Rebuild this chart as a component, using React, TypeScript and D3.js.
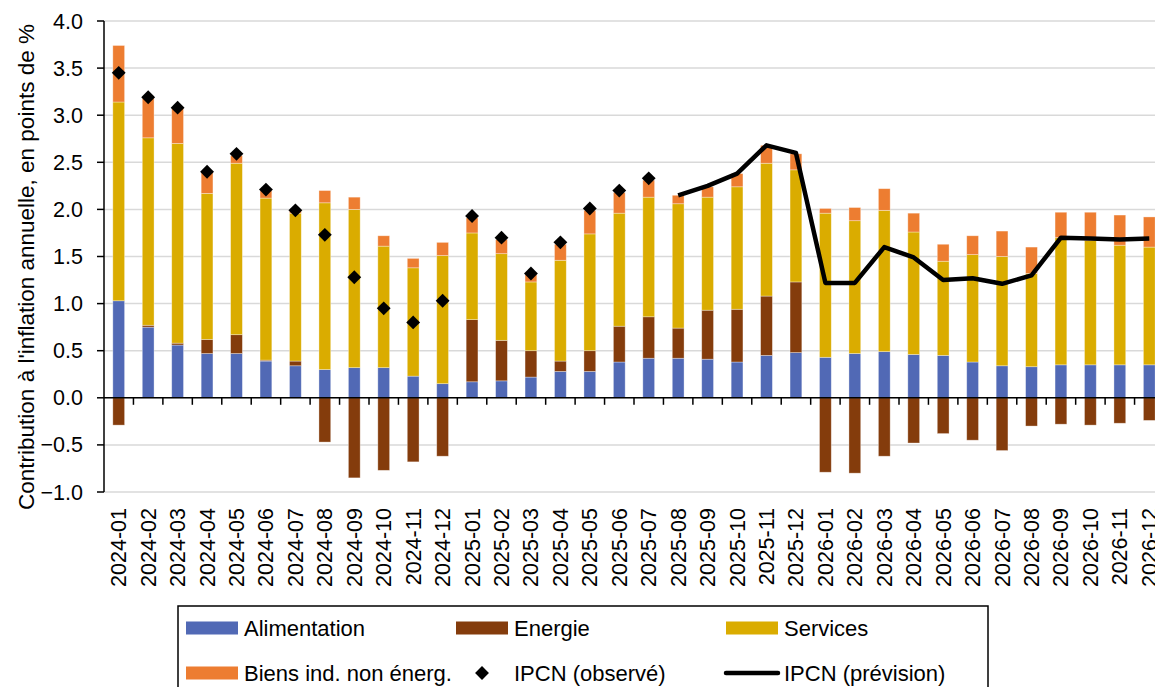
import React from "react";
import * as d3 from "d3";

const months = [
  "2024-01","2024-02","2024-03","2024-04","2024-05","2024-06","2024-07","2024-08","2024-09","2024-10","2024-11","2024-12",
  "2025-01","2025-02","2025-03","2025-04","2025-05","2025-06","2025-07","2025-08","2025-09","2025-10","2025-11","2025-12",
  "2026-01","2026-02","2026-03","2026-04","2026-05","2026-06","2026-07","2026-08","2026-09","2026-10","2026-11","2026-12",
];

const alimentation = [1.03,0.75,0.56,0.47,0.47,0.39,0.34,0.30,0.32,0.32,0.23,0.15,0.17,0.18,0.22,0.28,0.28,0.38,0.42,0.42,0.41,0.38,0.45,0.48,0.43,0.47,0.49,0.46,0.45,0.38,0.34,0.33,0.35,0.35,0.35,0.35];
const energie = [-0.29,0.02,0.02,0.15,0.20,0.01,0.05,-0.47,-0.85,-0.77,-0.68,-0.62,0.66,0.43,0.28,0.11,0.22,0.38,0.44,0.32,0.52,0.56,0.63,0.75,-0.79,-0.80,-0.62,-0.48,-0.38,-0.45,-0.56,-0.30,-0.28,-0.29,-0.27,-0.24];
const services = [2.11,1.99,2.12,1.55,1.82,1.72,1.57,1.77,1.68,1.29,1.15,1.36,0.92,0.92,0.73,1.07,1.24,1.20,1.27,1.32,1.20,1.30,1.41,1.19,1.53,1.41,1.50,1.30,1.00,1.14,1.16,0.99,1.35,1.32,1.27,1.25];
const biens = [0.60,0.42,0.37,0.23,0.08,0.08,0.03,0.13,0.13,0.11,0.10,0.14,0.16,0.15,0.08,0.17,0.25,0.22,0.18,0.09,0.11,0.14,0.19,0.17,0.05,0.14,0.23,0.20,0.18,0.20,0.27,0.28,0.27,0.30,0.32,0.32];

const observedMonths = months.slice(0, 19);
const ipcnObserve = [3.45,3.19,3.08,2.40,2.59,2.21,1.99,1.73,1.28,0.95,0.80,1.03,1.93,1.70,1.32,1.65,2.01,2.20,2.33];
const forecastMonths = months.slice(19);
const ipcnPrevision = [2.15,2.25,2.38,2.68,2.60,1.22,1.22,1.60,1.49,1.25,1.27,1.21,1.30,1.70,1.69,1.68,1.69];

const yTicks = [-1, -0.5, 0, 0.5, 1, 1.5, 2, 2.5, 3, 3.5, 4];

const seriesKeys = ["Alimentation", "Energie", "Services", "Biens ind. non énerg."];
const seriesColors = ["#5169B5", "#843C0C", "#DAAC00", "#ED7D31"];

const FONT = "'Liberation Sans', Arial, sans-serif";

export default function App() {
  const W = 1155, H = 687;
  const x0 = 104, x1 = 1164;
  const yTop = 21, yBot = 492;

  const x = d3.scaleBand<string>().domain(months).range([x0, x1]).paddingInner(0.6).paddingOuter(0.3);
  const step = x.step();
  const y = d3.scaleLinear().domain([-1, 4]).range([yBot, yTop]);

  const table = months.map((m, i) => ({
    month: m,
    [seriesKeys[0]]: alimentation[i],
    [seriesKeys[1]]: energie[i],
    [seriesKeys[2]]: services[i],
    [seriesKeys[3]]: biens[i],
  }));
  const stacked = d3.stack<any>().keys(seriesKeys).offset(d3.stackOffsetDiverging)(table);

  const cx = (m: string) => (x(m) as number) + x.bandwidth() / 2;
  const line = d3.line<number>().x((_, i) => cx(forecastMonths[i])).y((v) => y(v));
  const diamond = d3.symbol().type(d3.symbolSquare).size(96)();

  const legendCols = [186, 456, 726];
  const legendRows = [628, 673];

  return (
    <svg width={W} height={H} style={{ position: "absolute", left: 0, top: 0, background: "#fff" }} fontFamily={FONT}>
      {yTicks.map((t) => (
        <line key={"g" + t} x1={x0} x2={W} y1={y(t)} y2={y(t)} stroke="#D9D9D9" strokeWidth={1.5} />
      ))}
      {stacked.map((s, si) => (
        <g key={s.key} fill={seriesColors[si]}>
          {s.map((d, i) => {
            const top = y(Math.max(d[0], d[1]));
            const bot = y(Math.min(d[0], d[1]));
            if (bot - top <= 0) return null;
            return (
              <rect key={i} x={x(months[i])} width={x.bandwidth()} y={top} height={bot - top}
                stroke="#ffffff" strokeOpacity={0.45} strokeWidth={0.75} />
            );
          })}
        </g>
      ))}
      <line x1={x0} x2={x0} y1={yTop} y2={yBot} stroke="#000" strokeWidth={1.5} />
      {yTicks.map((t) => (
        <g key={"yt" + t}>
          <line x1={x0 - 7} x2={x0} y1={y(t)} y2={y(t)} stroke="#000" strokeWidth={1.5} />
          <text x={83} y={y(t)} dy="0.35em" textAnchor="end" fontSize={21.5} fill="#000">
            {d3.format(".1f")(t)}
          </text>
        </g>
      ))}
      <line x1={x0} x2={W} y1={y(0)} y2={y(0)} stroke="#000" strokeWidth={1.5} />
      {months.map((m) => {
        const bx = (x(m) as number) + x.bandwidth() + (step * x.paddingInner()) / 2;
        return <line key={"xt" + m} x1={bx} x2={bx} y1={y(0)} y2={y(0) + 7} stroke="#000" strokeWidth={1.5} />;
      })}
      {months.map((m) => (
        <text key={"xl" + m} transform={`translate(${cx(m)},508) rotate(-90)`} dy="0.35em" textAnchor="end" fontSize={21.5} fill="#000">
          {m}
        </text>
      ))}
      <text transform={`translate(26,267) rotate(-90)`} dy="0.35em" textAnchor="middle" fontSize={22.5} fill="#000">
        Contribution à l'inflation annuelle, en points de %
      </text>
      <path d={line(ipcnPrevision) as string} fill="none" stroke="#000" strokeWidth={4.5} strokeLinejoin="round" />
      {ipcnObserve.map((v, i) => (
        <path key={"d" + i} d={diamond as string} transform={`translate(${cx(observedMonths[i])},${y(v)}) rotate(45)`} fill="#000" />
      ))}
      <rect x={178} y={606} width={810} height={100} fill="#fff" stroke="#000" strokeWidth={1.5} />
      {[0, 1, 2, 3].map((k) => {
        const col = legendCols[k % 3];
        const row = legendRows[Math.floor(k / 3)];
        return (
          <g key={"lg" + k}>
            <rect x={col} y={row - 6.5} width={52} height={13} fill={seriesColors[k]} />
            <text x={col + 58} y={row} dy="0.35em" fontSize={22} fill="#000">{seriesKeys[k]}</text>
          </g>
        );
      })}
      <path d={diamond as string} transform={`translate(${legendCols[1] + 26},${legendRows[1]}) rotate(45)`} fill="#000" />
      <text x={legendCols[1] + 58} y={legendRows[1]} dy="0.35em" fontSize={22} fill="#000">IPCN (observé)</text>
      <line x1={legendCols[2]} x2={legendCols[2] + 52} y1={legendRows[1]} y2={legendRows[1]} stroke="#000" strokeWidth={4.5} strokeLinecap="round" />
      <text x={legendCols[2] + 58} y={legendRows[1]} dy="0.35em" fontSize={22} fill="#000">IPCN (prévision)</text>
    </svg>
  );
}
